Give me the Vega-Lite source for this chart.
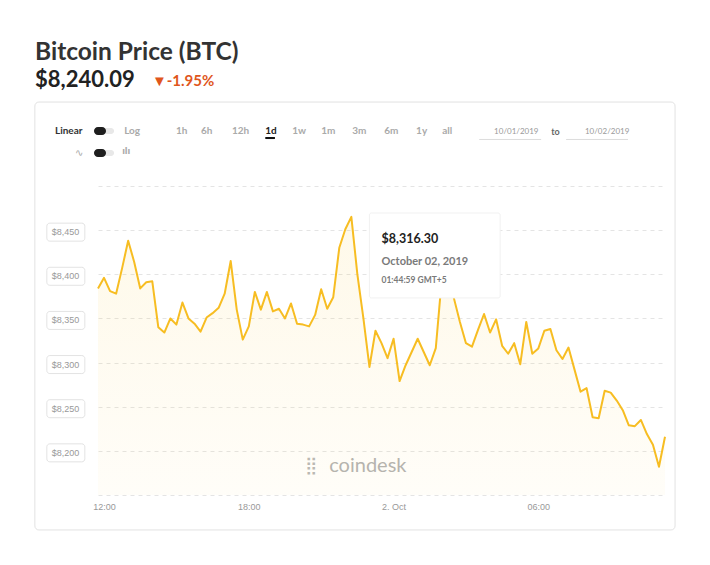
{
  "$schema": "https://vega.github.io/schema/vega-lite/v6.json",
  "width": 567,
  "height": 309,
  "autosize": {"type": "none"},
  "padding": {"left": 98, "top": 186, "right": 45, "bottom": 70},
  "background": "white",
  "title": {
    "text": "Bitcoin Price (BTC)",
    "subtitle": "$8,240.09",
    "anchor": "start",
    "frame": "group",
    "dx": -63,
    "offset": -18,
    "font": "Lato",
    "fontSize": 24.5,
    "fontWeight": "bold",
    "color": "#333333",
    "subtitleFont": "Lato",
    "subtitleFontSize": 22,
    "subtitleFontWeight": "bold",
    "subtitleColor": "#222222",
    "subtitlePadding": 4
  },
  "config": {"view": {"stroke": null}},
  "data": {"values": [{"note": "annotation"}]},
  "datasets": {
    "price": [
      {"time": "2019-10-01T11:45", "price": 8384},
      {"time": "2019-10-01T12:00", "price": 8396},
      {"time": "2019-10-01T12:15", "price": 8381},
      {"time": "2019-10-01T12:30", "price": 8378},
      {"time": "2019-10-01T12:45", "price": 8407},
      {"time": "2019-10-01T13:00", "price": 8438},
      {"time": "2019-10-01T13:15", "price": 8414},
      {"time": "2019-10-01T13:30", "price": 8384},
      {"time": "2019-10-01T13:45", "price": 8391},
      {"time": "2019-10-01T14:00", "price": 8392},
      {"time": "2019-10-01T14:15", "price": 8340},
      {"time": "2019-10-01T14:30", "price": 8334},
      {"time": "2019-10-01T14:45", "price": 8350},
      {"time": "2019-10-01T15:00", "price": 8343},
      {"time": "2019-10-01T15:15", "price": 8368},
      {"time": "2019-10-01T15:30", "price": 8350},
      {"time": "2019-10-01T15:45", "price": 8344},
      {"time": "2019-10-01T16:00", "price": 8335},
      {"time": "2019-10-01T16:15", "price": 8351},
      {"time": "2019-10-01T16:30", "price": 8356},
      {"time": "2019-10-01T16:45", "price": 8362},
      {"time": "2019-10-01T17:00", "price": 8378},
      {"time": "2019-10-01T17:15", "price": 8415},
      {"time": "2019-10-01T17:30", "price": 8360},
      {"time": "2019-10-01T17:45", "price": 8326},
      {"time": "2019-10-01T18:00", "price": 8341},
      {"time": "2019-10-01T18:15", "price": 8380},
      {"time": "2019-10-01T18:30", "price": 8360},
      {"time": "2019-10-01T18:45", "price": 8380},
      {"time": "2019-10-01T19:00", "price": 8358},
      {"time": "2019-10-01T19:15", "price": 8361},
      {"time": "2019-10-01T19:30", "price": 8350},
      {"time": "2019-10-01T19:45", "price": 8367},
      {"time": "2019-10-01T20:00", "price": 8344},
      {"time": "2019-10-01T20:15", "price": 8343},
      {"time": "2019-10-01T20:30", "price": 8341},
      {"time": "2019-10-01T20:45", "price": 8354},
      {"time": "2019-10-01T21:00", "price": 8383},
      {"time": "2019-10-01T21:15", "price": 8361},
      {"time": "2019-10-01T21:30", "price": 8374},
      {"time": "2019-10-01T21:45", "price": 8430},
      {"time": "2019-10-01T22:00", "price": 8451},
      {"time": "2019-10-01T22:15", "price": 8465},
      {"time": "2019-10-01T22:30", "price": 8400},
      {"time": "2019-10-01T22:45", "price": 8350},
      {"time": "2019-10-01T23:00", "price": 8295},
      {"time": "2019-10-01T23:15", "price": 8336},
      {"time": "2019-10-01T23:30", "price": 8322},
      {"time": "2019-10-01T23:45", "price": 8305},
      {"time": "2019-10-02T00:00", "price": 8327},
      {"time": "2019-10-02T00:15", "price": 8279},
      {"time": "2019-10-02T00:30", "price": 8297},
      {"time": "2019-10-02T00:45", "price": 8312},
      {"time": "2019-10-02T01:00", "price": 8327},
      {"time": "2019-10-02T01:15", "price": 8312},
      {"time": "2019-10-02T01:30", "price": 8297},
      {"time": "2019-10-02T01:45", "price": 8316.3},
      {"time": "2019-10-02T02:00", "price": 8395},
      {"time": "2019-10-02T02:15", "price": 8400},
      {"time": "2019-10-02T02:30", "price": 8373},
      {"time": "2019-10-02T02:45", "price": 8346},
      {"time": "2019-10-02T03:00", "price": 8322},
      {"time": "2019-10-02T03:15", "price": 8318},
      {"time": "2019-10-02T03:30", "price": 8337},
      {"time": "2019-10-02T03:45", "price": 8355},
      {"time": "2019-10-02T04:00", "price": 8334},
      {"time": "2019-10-02T04:15", "price": 8349},
      {"time": "2019-10-02T04:30", "price": 8319},
      {"time": "2019-10-02T04:45", "price": 8310},
      {"time": "2019-10-02T05:00", "price": 8322},
      {"time": "2019-10-02T05:15", "price": 8298},
      {"time": "2019-10-02T05:30", "price": 8346},
      {"time": "2019-10-02T05:45", "price": 8310},
      {"time": "2019-10-02T06:00", "price": 8316},
      {"time": "2019-10-02T06:15", "price": 8336},
      {"time": "2019-10-02T06:30", "price": 8338},
      {"time": "2019-10-02T06:45", "price": 8314},
      {"time": "2019-10-02T07:00", "price": 8304},
      {"time": "2019-10-02T07:15", "price": 8317},
      {"time": "2019-10-02T07:30", "price": 8292},
      {"time": "2019-10-02T07:45", "price": 8267},
      {"time": "2019-10-02T08:00", "price": 8271},
      {"time": "2019-10-02T08:15", "price": 8238},
      {"time": "2019-10-02T08:30", "price": 8237},
      {"time": "2019-10-02T08:45", "price": 8268},
      {"time": "2019-10-02T09:00", "price": 8266},
      {"time": "2019-10-02T09:15", "price": 8257},
      {"time": "2019-10-02T09:30", "price": 8246},
      {"time": "2019-10-02T09:45", "price": 8229},
      {"time": "2019-10-02T10:00", "price": 8228},
      {"time": "2019-10-02T10:15", "price": 8235},
      {"time": "2019-10-02T10:30", "price": 8219},
      {"time": "2019-10-02T10:45", "price": 8207},
      {"time": "2019-10-02T11:00", "price": 8182},
      {"time": "2019-10-02T11:15", "price": 8216}
    ],
    "ticks": [
      {"v": 8200}, {"v": 8250}, {"v": 8300}, {"v": 8350}, {"v": 8400}, {"v": 8450}
    ]
  },
  "layer": [
    {
      "mark": {"type": "rect", "fillOpacity": 0, "stroke": "#e2e2e2", "strokeWidth": 1, "cornerRadius": 4},
      "encoding": {
        "x": {"datum": {"year": 2019, "month": 10, "date": 1, "hours": 9, "minutes": 8}},
        "x2": {"datum": {"year": 2019, "month": 10, "date": 2, "hours": 11, "minutes": 40}},
        "y": {"datum": 8595.1},
        "y2": {"datum": 8110.4}
      }
    },
    {
      "mark": {"type": "text", "align": "left", "baseline": "middle", "font": "DejaVu Sans", "fontSize": 17, "color": "#b8b8b8"},
      "encoding": {
        "x": {"datum": {"year": 2019, "month": 10, "date": 1, "hours": 20, "minutes": 20}},
        "y": {"datum": 8182.8},
        "text": {"value": "⣿"}
      }
    },
    {
      "mark": {"type": "text", "align": "left", "baseline": "middle", "font": "Lato", "fontSize": 20, "color": "#b3b3b3"},
      "encoding": {
        "x": {"datum": {"year": 2019, "month": 10, "date": 1, "hours": 21, "minutes": 20}},
        "y": {"datum": 8182.8},
        "text": {"value": "coindesk"}
      }
    },
    {
      "data": {"name": "price"},
      "mark": {
        "type": "area",
        "line": false,
        "color": {
          "x1": 0, "y1": 0, "x2": 0, "y2": 1,
          "gradient": "linear",
          "stops": [
            {"offset": 0, "color": "rgba(250,196,40,0.10)"},
            {"offset": 1, "color": "rgba(250,196,40,0.03)"}
          ]
        }
      },
      "encoding": {
        "x": {
          "field": "time",
          "type": "temporal",
          "scale": {
            "domain": [
              {"year": 2019, "month": 10, "date": 1, "hours": 11, "minutes": 45},
              {"year": 2019, "month": 10, "date": 2, "hours": 11, "minutes": 15}
            ]
          },
          "axis": {
            "title": null,
            "grid": false,
            "domain": false,
            "ticks": false,
            "values": [
              {"year": 2019, "month": 10, "date": 1, "hours": 12},
              {"year": 2019, "month": 10, "date": 1, "hours": 18},
              {"year": 2019, "month": 10, "date": 2, "hours": 0},
              {"year": 2019, "month": 10, "date": 2, "hours": 6}
            ],
            "labelExpr": "hours(datum.value) == 0 ? timeFormat(datum.value, '%-d. %b') : timeFormat(datum.value, '%H:%M')",
            "labelFont": "Liberation Sans",
            "labelFontSize": 9,
            "labelColor": "#999999",
            "labelPadding": 7
          }
        },
        "y": {
          "field": "price",
          "type": "quantitative",
          "scale": {"domain": [8150, 8500], "zero": false, "nice": false},
          "axis": {
            "title": null,
            "grid": true,
            "gridColor": "#e4e4e4",
            "gridDash": [4, 4],
            "domain": false,
            "ticks": false,
            "labels": false,
            "values": [8150, 8200, 8250, 8300, 8350, 8400, 8450, 8500]
          }
        },
        "y2": {"datum": 8150}
      }
    },
    {
      "data": {"name": "price"},
      "mark": {"type": "line", "color": "#f7bd22", "strokeWidth": 2, "strokeJoin": "round"},
      "encoding": {
        "x": {"field": "time", "type": "temporal"},
        "y": {"field": "price", "type": "quantitative"}
      }
    },
    {
      "mark": {"type": "rect", "fill": "white", "stroke": "#f1f1f1", "strokeWidth": 1, "cornerRadius": 2},
      "encoding": {
        "x": {"datum": {"year": 2019, "month": 10, "date": 1, "hours": 23, "minutes": 0}},
        "x2": {"datum": {"year": 2019, "month": 10, "date": 2, "hours": 4, "minutes": 25}},
        "y": {"datum": 8469.4},
        "y2": {"datum": 8373.2}
      }
    },
    {
      "mark": {"type": "text", "align": "left", "baseline": "alphabetic", "font": "Lato", "fontSize": 12.5, "fontWeight": "bold", "color": "#222222"},
      "encoding": {
        "x": {"datum": {"year": 2019, "month": 10, "date": 1, "hours": 23, "minutes": 30}},
        "y": {"datum": 8435.6},
        "text": {"value": "$8,316.30"}
      }
    },
    {
      "mark": {"type": "text", "align": "left", "baseline": "alphabetic", "font": "Lato", "fontSize": 11, "fontWeight": "bold", "color": "#7a7a7a"},
      "encoding": {
        "x": {"datum": {"year": 2019, "month": 10, "date": 1, "hours": 23, "minutes": 30}},
        "y": {"datum": 8410.4},
        "text": {"value": "October 02, 2019"}
      }
    },
    {
      "mark": {"type": "text", "align": "left", "baseline": "alphabetic", "font": "Lato", "fontSize": 8.5, "fontWeight": "bold", "color": "#7a7a7a"},
      "encoding": {
        "x": {"datum": {"year": 2019, "month": 10, "date": 1, "hours": 23, "minutes": 30}},
        "y": {"datum": 8389.6},
        "text": {"value": "01:44:59 GMT+5"}
      }
    },
    {
      "data": {"name": "ticks"},
      "mark": {"type": "rect", "width": 38, "height": 18, "fill": "white", "stroke": "#e3e3e3", "strokeWidth": 1, "cornerRadius": 3, "yOffset": 2},
      "encoding": {
        "x": {"datum": {"year": 2019, "month": 10, "date": 1, "hours": 10, "minutes": 25}},
        "y": {"field": "v", "type": "quantitative"}
      }
    },
    {
      "data": {"name": "ticks"},
      "mark": {"type": "text", "align": "center", "baseline": "middle", "font": "Liberation Sans", "fontSize": 9, "color": "#999999", "yOffset": 2},
      "encoding": {
        "x": {"datum": {"year": 2019, "month": 10, "date": 1, "hours": 10, "minutes": 24}},
        "y": {"field": "v", "type": "quantitative"},
        "text": {"field": "v", "type": "quantitative", "format": "$,"}
      }
    },
    {
      "mark": {"type": "text", "align": "left", "baseline": "alphabetic", "font": "Lato", "fontSize": 15, "fontWeight": "bold", "color": "#e0561c"},
      "encoding": {
        "x": {"datum": {"year": 2019, "month": 10, "date": 1, "hours": 13, "minutes": 59}},
        "y": {"datum": 8613.3},
        "text": {"value": "▼-1.95%"}
      }
    },
    {
      "mark": {"type": "text", "align": "left", "baseline": "middle", "font": "Lato", "fontSize": 10, "fontWeight": "bold", "color": "#333333"},
      "encoding": {
        "x": {"datum": {"year": 2019, "month": 10, "date": 1, "hours": 9, "minutes": 58}},
        "y": {"datum": 8562.3},
        "text": {"value": "Linear"}
      }
    },
    {
      "mark": {"type": "rect", "fill": "#e8e8e8", "cornerRadius": 3},
      "encoding": {
        "x": {"datum": {"year": 2019, "month": 10, "date": 1, "hours": 11, "minutes": 35}},
        "x2": {"datum": {"year": 2019, "month": 10, "date": 1, "hours": 12, "minutes": 25}},
        "y": {"datum": 8565.7},
        "y2": {"datum": 8558.9}
      }
    },
    {
      "mark": {"type": "rect", "fill": "#1e1e1e", "cornerRadius": 4},
      "encoding": {
        "x": {"datum": {"year": 2019, "month": 10, "date": 1, "hours": 11, "minutes": 35}},
        "x2": {"datum": {"year": 2019, "month": 10, "date": 1, "hours": 12, "minutes": 5}},
        "y": {"datum": 8566.8},
        "y2": {"datum": 8557.8}
      }
    },
    {
      "mark": {"type": "text", "align": "left", "baseline": "middle", "font": "Lato", "fontSize": 10, "fontWeight": "bold", "color": "#aaaaaa"},
      "encoding": {
        "x": {"datum": {"year": 2019, "month": 10, "date": 1, "hours": 12, "minutes": 50}},
        "y": {"datum": 8562.3},
        "text": {"value": "Log"}
      }
    },
    {
      "mark": {"type": "text", "align": "left", "baseline": "middle", "font": "Lato", "fontSize": 10, "fontWeight": "bold", "color": "#aaaaaa"},
      "encoding": {
        "x": {"datum": {"year": 2019, "month": 10, "date": 1, "hours": 14, "minutes": 59}},
        "y": {"datum": 8562.3},
        "text": {"value": "1h"}
      }
    },
    {
      "mark": {"type": "text", "align": "left", "baseline": "middle", "font": "Lato", "fontSize": 10, "fontWeight": "bold", "color": "#aaaaaa"},
      "encoding": {
        "x": {"datum": {"year": 2019, "month": 10, "date": 1, "hours": 16, "minutes": 1}},
        "y": {"datum": 8562.3},
        "text": {"value": "6h"}
      }
    },
    {
      "mark": {"type": "text", "align": "left", "baseline": "middle", "font": "Lato", "fontSize": 10, "fontWeight": "bold", "color": "#aaaaaa"},
      "encoding": {
        "x": {"datum": {"year": 2019, "month": 10, "date": 1, "hours": 17, "minutes": 18}},
        "y": {"datum": 8562.3},
        "text": {"value": "12h"}
      }
    },
    {
      "mark": {"type": "text", "align": "left", "baseline": "middle", "font": "Lato", "fontSize": 10, "fontWeight": "bold", "color": "#222222"},
      "encoding": {
        "x": {"datum": {"year": 2019, "month": 10, "date": 1, "hours": 18, "minutes": 41}},
        "y": {"datum": 8562.3},
        "text": {"value": "1d"}
      }
    },
    {
      "mark": {"type": "rect", "fill": "#111111"},
      "encoding": {
        "x": {"datum": {"year": 2019, "month": 10, "date": 1, "hours": 18, "minutes": 41}},
        "x2": {"datum": {"year": 2019, "month": 10, "date": 1, "hours": 19, "minutes": 5}},
        "y": {"datum": 8555.5},
        "y2": {"datum": 8553.2}
      }
    },
    {
      "mark": {"type": "text", "align": "left", "baseline": "middle", "font": "Lato", "fontSize": 10, "fontWeight": "bold", "color": "#aaaaaa"},
      "encoding": {
        "x": {"datum": {"year": 2019, "month": 10, "date": 1, "hours": 19, "minutes": 48}},
        "y": {"datum": 8562.3},
        "text": {"value": "1w"}
      }
    },
    {
      "mark": {"type": "text", "align": "left", "baseline": "middle", "font": "Lato", "fontSize": 10, "fontWeight": "bold", "color": "#aaaaaa"},
      "encoding": {
        "x": {"datum": {"year": 2019, "month": 10, "date": 1, "hours": 21, "minutes": 0}},
        "y": {"datum": 8562.3},
        "text": {"value": "1m"}
      }
    },
    {
      "mark": {"type": "text", "align": "left", "baseline": "middle", "font": "Lato", "fontSize": 10, "fontWeight": "bold", "color": "#aaaaaa"},
      "encoding": {
        "x": {"datum": {"year": 2019, "month": 10, "date": 1, "hours": 22, "minutes": 17}},
        "y": {"datum": 8562.3},
        "text": {"value": "3m"}
      }
    },
    {
      "mark": {"type": "text", "align": "left", "baseline": "middle", "font": "Lato", "fontSize": 10, "fontWeight": "bold", "color": "#aaaaaa"},
      "encoding": {
        "x": {"datum": {"year": 2019, "month": 10, "date": 1, "hours": 23, "minutes": 37}},
        "y": {"datum": 8562.3},
        "text": {"value": "6m"}
      }
    },
    {
      "mark": {"type": "text", "align": "left", "baseline": "middle", "font": "Lato", "fontSize": 10, "fontWeight": "bold", "color": "#aaaaaa"},
      "encoding": {
        "x": {"datum": {"year": 2019, "month": 10, "date": 2, "hours": 0, "minutes": 56}},
        "y": {"datum": 8562.3},
        "text": {"value": "1y"}
      }
    },
    {
      "mark": {"type": "text", "align": "left", "baseline": "middle", "font": "Lato", "fontSize": 10, "fontWeight": "bold", "color": "#aaaaaa"},
      "encoding": {
        "x": {"datum": {"year": 2019, "month": 10, "date": 2, "hours": 2, "minutes": 1}},
        "y": {"datum": 8562.3},
        "text": {"value": "all"}
      }
    },
    {
      "mark": {"type": "text", "align": "left", "baseline": "middle", "font": "Lato", "fontSize": 8, "color": "#999999"},
      "encoding": {
        "x": {"datum": {"year": 2019, "month": 10, "date": 2, "hours": 4, "minutes": 10}},
        "y": {"datum": 8561},
        "text": {"value": "10/01/2019"}
      }
    },
    {
      "mark": {"type": "rule", "color": "#dddddd", "strokeWidth": 1},
      "encoding": {
        "x": {"datum": {"year": 2019, "month": 10, "date": 2, "hours": 3, "minutes": 33}},
        "x2": {"datum": {"year": 2019, "month": 10, "date": 2, "hours": 6, "minutes": 7}},
        "y": {"datum": 8552.7}
      }
    },
    {
      "mark": {"type": "text", "align": "left", "baseline": "middle", "font": "Lato", "fontSize": 9, "fontWeight": "bold", "color": "#666666"},
      "encoding": {
        "x": {"datum": {"year": 2019, "month": 10, "date": 2, "hours": 6, "minutes": 32}},
        "y": {"datum": 8561},
        "text": {"value": "to"}
      }
    },
    {
      "mark": {"type": "text", "align": "left", "baseline": "middle", "font": "Lato", "fontSize": 8, "color": "#999999"},
      "encoding": {
        "x": {"datum": {"year": 2019, "month": 10, "date": 2, "hours": 7, "minutes": 56}},
        "y": {"datum": 8561},
        "text": {"value": "10/02/2019"}
      }
    },
    {
      "mark": {"type": "rule", "color": "#dddddd", "strokeWidth": 1},
      "encoding": {
        "x": {"datum": {"year": 2019, "month": 10, "date": 2, "hours": 7, "minutes": 9}},
        "x2": {"datum": {"year": 2019, "month": 10, "date": 2, "hours": 9, "minutes": 43}},
        "y": {"datum": 8552.7}
      }
    },
    {
      "mark": {"type": "text", "align": "left", "baseline": "middle", "font": "DejaVu Sans", "fontSize": 10, "color": "#aaaaaa"},
      "encoding": {
        "x": {"datum": {"year": 2019, "month": 10, "date": 1, "hours": 10, "minutes": 48}},
        "y": {"datum": 8537.4},
        "text": {"value": "∿"}
      }
    },
    {
      "mark": {"type": "rect", "fill": "#e8e8e8", "cornerRadius": 3},
      "encoding": {
        "x": {"datum": {"year": 2019, "month": 10, "date": 1, "hours": 11, "minutes": 35}},
        "x2": {"datum": {"year": 2019, "month": 10, "date": 1, "hours": 12, "minutes": 25}},
        "y": {"datum": 8540.8},
        "y2": {"datum": 8534.0}
      }
    },
    {
      "mark": {"type": "rect", "fill": "#1e1e1e", "cornerRadius": 4},
      "encoding": {
        "x": {"datum": {"year": 2019, "month": 10, "date": 1, "hours": 11, "minutes": 35}},
        "x2": {"datum": {"year": 2019, "month": 10, "date": 1, "hours": 12, "minutes": 5}},
        "y": {"datum": 8541.9},
        "y2": {"datum": 8532.8}
      }
    },
    {
      "mark": {"type": "text", "align": "left", "baseline": "middle", "font": "DejaVu Sans", "fontSize": 8, "fontWeight": "bold", "color": "#aaaaaa"},
      "encoding": {
        "x": {"datum": {"year": 2019, "month": 10, "date": 1, "hours": 12, "minutes": 45}},
        "y": {"datum": 8538.5},
        "text": {"value": "ılı"}
      }
    }
  ]
}
